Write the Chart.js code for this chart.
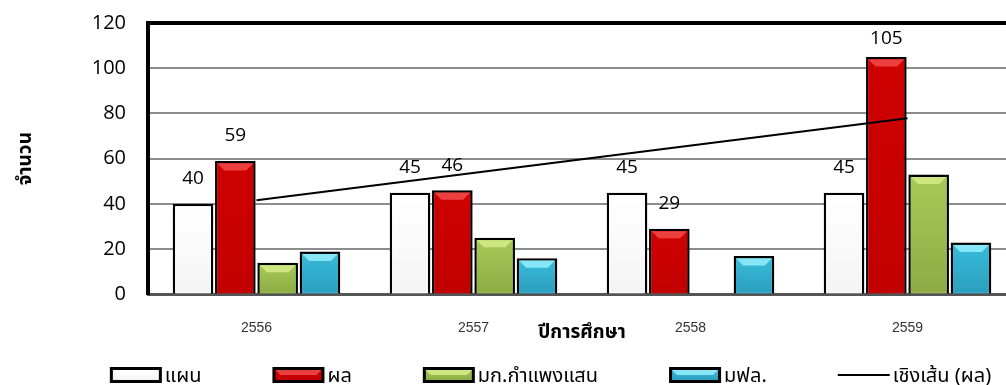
<!DOCTYPE html>
<html>
<head>
<meta charset="utf-8">
<script src="https://cdn.jsdelivr.net/npm/chart.js@4.4.1/dist/chart.umd.min.js"></script>
<style>
  html, body { margin: 0; padding: 0; background: #fff; overflow: hidden; }
  #wrap { position: relative; width: 1016px; height: 385px; }
</style>
</head>
<body>
<div id="wrap"><canvas id="myChart"></canvas></div>
<script>
const years = ['2556', '2557', '2558', '2559'];
const plan = [40, 45, 45, 45];
const result = [59, 46, 29, 105];
const kps = [14, 25, null, 53];
const mfu = [19, 16, 17, 23];
// trendline of ผล, value at first and last year
const trendEnds = [41.6, 77.9];
const yTicks = [0, 20, 40, 60, 80, 100, 120];

const thaiFont = "'Noto Sans Thai', 'Noto Sans', 'Open Sans', sans-serif";
const numFont = "'Open Sans', 'Noto Sans', sans-serif";

const trend = years.map((y, i) => i === 0 ? trendEnds[0] : (i === years.length - 1 ? trendEnds[1] : null));

// fill colour, top bevel colour, lower body colour
const looks = {
    'แผน': ['#ffffff', '#ffffff', '#f4f4f4'],
    'ผล': ['#cf0000', '#ec4040', '#c20000'],
    'มก.กำแพงแสน': ['#a6c957', '#cde67f', '#8dac45'],
    'มฟล.': ['#38bad8', '#86e6f6', '#2c9fc0']
};
const barBorder = 2.5;

function paintBox(ctx, l, t, r, b, look) {
    const g = ctx.createLinearGradient(0, t, 0, b);
    g.addColorStop(0, look[0]);
    g.addColorStop(1, look[2]);
    ctx.fillStyle = g;
    ctx.fillRect(l, t, r - l, b - t);
    const d = Math.min(7, (r - l) / 3, (b - t) / 2);
    ctx.fillStyle = look[1];
    ctx.beginPath();
    ctx.moveTo(l, t);
    ctx.lineTo(r, t);
    ctx.lineTo(r - d, t + d);
    ctx.lineTo(l + d, t + d);
    ctx.closePath();
    ctx.fill();
}

// shaded bevel inside each bar, drawn before the trendline
const bevel = {
    id: 'bevel',
    afterDatasetDraw(chart, args) {
        const ds = chart.data.datasets[args.index];
        if (ds.type === 'line') return;
        const look = looks[ds.label];
        const ctx = chart.ctx;
        ctx.save();
        args.meta.data.forEach((bar, i) => {
            if (ds.data[i] == null) return;
            const p = bar.getProps(['x', 'y', 'base', 'width'], true);
            paintBox(ctx, p.x - p.width / 2 + barBorder, p.y + barBorder, p.x + p.width / 2 - barBorder, p.base - 1, look);
        });
        ctx.restore();
    }
};

// value labels above แผน and ผล bars
const valueLabels = {
    id: 'valueLabels',
    afterDatasetsDraw(chart) {
        const ctx = chart.ctx;
        ctx.save();
        ctx.fillStyle = '#000';
        ctx.textAlign = 'center';
        ctx.textBaseline = 'middle';
        ctx.font = '19px ' + numFont;
        [0, 1].forEach(di => {
            const meta = chart.getDatasetMeta(di);
            meta.data.forEach((bar, i) => {
                const v = chart.data.datasets[di].data[i];
                const y = Math.max(bar.y - 25, chart.chartArea.top + 16);
                ctx.fillText(String(v), bar.x, y);
            });
        });
        ctx.restore();
    }
};

// single legend row under the axis title
const legendRow = {
    id: 'legendRow',
    afterDraw(chart) {
        const ctx = chart.ctx;
        const boxW = 52, boxH = 16, gap = 70, top = 367;
        ctx.save();
        ctx.font = '20px ' + thaiFont;
        ctx.textBaseline = 'middle';
        const items = chart.data.datasets.map(ds => ({
            ds,
            w: boxW + 4 + ctx.measureText(ds.label).width
        }));
        const total = items.reduce((s, it) => s + it.w, 0) + gap * (items.length - 1);
        let x = 551 - total / 2;
        items.forEach(it => {
            const ds = it.ds;
            if (ds.type === 'line') {
                ctx.strokeStyle = '#000';
                ctx.lineWidth = 2;
                ctx.beginPath();
                ctx.moveTo(x, top + boxH / 2);
                ctx.lineTo(x + boxW, top + boxH / 2);
                ctx.stroke();
            } else {
                ctx.fillStyle = '#000';
                ctx.fillRect(x, top, boxW, boxH);
                paintBox(ctx, x + 3, top + 3, x + boxW - 3, top + boxH - 3, looks[ds.label]);
            }
            ctx.fillStyle = '#000';
            ctx.fillText(ds.label, x + boxW + 3, top + boxH / 2 + 3);
            x += it.w + gap;
        });
        ctx.restore();
    }
};

function barSet(label, data) {
    return {
        label: label,
        data: data,
        backgroundColor: looks[label][0],
        borderColor: '#000',
        borderWidth: barBorder,
        borderSkipped: 'bottom',
        barPercentage: 0.96,
        categoryPercentage: 0.78,
        order: 1
    };
}

new Chart(document.getElementById('myChart'), {
    type: 'bar',
    data: {
        labels: years,
        datasets: [
            barSet('แผน', plan),
            barSet('ผล', result),
            barSet('มก.กำแพงแสน', kps),
            barSet('มฟล.', mfu),
            {
                type: 'line',
                label: 'เชิงเส้น (ผล)',
                data: trend,
                borderColor: '#000',
                borderWidth: 2,
                pointRadius: 0,
                spanGaps: true,
                tension: 0,
                order: 0
            }
        ]
    },
    options: {
        responsive: true,
        maintainAspectRatio: false,
        animation: false,
        layout: {
            padding: { top: 23, left: 16, right: 0, bottom: 39 }
        },
        plugins: {
            legend: { display: false },
            tooltip: { enabled: false }
        },
        scales: {
            x: {
                grid: { display: false, drawTicks: false },
                border: { color: '#555', width: 3 },
                ticks: {
                    color: '#333',
                    padding: 25,
                    font: { family: "'Liberation Sans', Arial, sans-serif", size: 14 }
                },
                title: {
                    display: true,
                    text: 'ปีการศึกษา',
                    color: '#000',
                    padding: { top: -38, bottom: 0 },
                    font: { family: thaiFont, size: 19, weight: 'bold' }
                }
            },
            y: {
                min: 0,
                max: 120,
                afterBuildTicks: s => { s.ticks = yTicks.map(v => ({ value: v })); },
                afterFit: s => {
                    s.width = 132;
                    s.paddingTop = 0;
                    s.paddingBottom = 0;
                },
                grid: {
                    drawTicks: false,
                    color: c => c.tick.value === 120 ? '#000' : (c.tick.value === 0 ? 'rgba(0,0,0,0)' : '#8c8c8c'),
                    lineWidth: c => c.tick.value === 120 ? 4 : 2
                },
                border: { color: '#000', width: 4 },
                ticks: {
                    color: '#000',
                    padding: 22,
                    font: { family: numFont, size: 20 }
                },
                title: {
                    display: true,
                    text: 'จำนวน',
                    color: '#000',
                    padding: { top: 0, bottom: 0 },
                    font: { family: thaiFont, size: 19, weight: 'bold' }
                }
            }
        }
    },
    plugins: [bevel, valueLabels, legendRow]
});
</script>
</body>
</html>
